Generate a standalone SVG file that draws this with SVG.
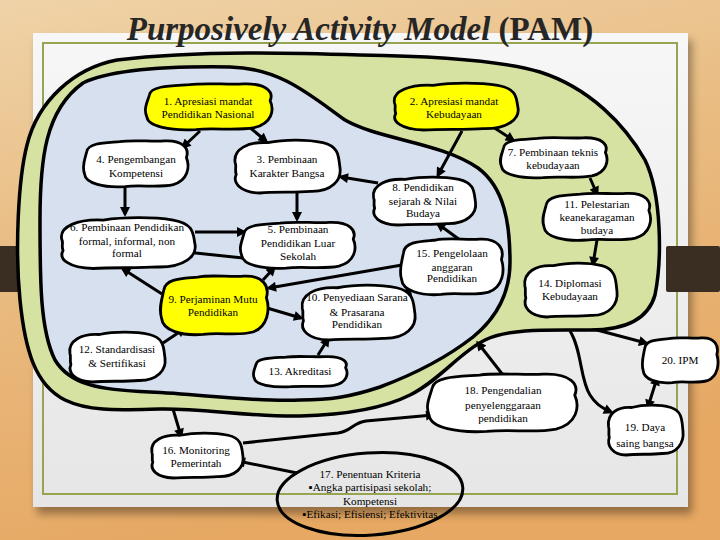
<svg xmlns="http://www.w3.org/2000/svg" width="720" height="540" viewBox="0 0 720 540">
<defs>
<linearGradient id="wood" x1="0" y1="0" x2="0.3" y2="1"><stop offset="0" stop-color="#efd3a8"/><stop offset="0.45" stop-color="#e9bc82"/><stop offset="1" stop-color="#e6a863"/></linearGradient>
<linearGradient id="paper" x1="0" y1="0" x2="0" y2="1"><stop offset="0" stop-color="#f7f7f7"/><stop offset="1" stop-color="#e6e6e6"/></linearGradient>
<filter id="sh" x="-5%" y="-5%" width="110%" height="115%"><feGaussianBlur stdDeviation="4"/></filter>
<marker id="ah" viewBox="0 0 10 10" refX="7" refY="5" markerWidth="11" markerHeight="10" markerUnits="userSpaceOnUse" orient="auto-start-reverse"><path d="M0,0 L10,5 L0,10 z" fill="#000"/></marker>
<path id="bA" d="M -0.93,-0.5 C -0.9,-0.9 -0.55,-0.88 -0.3,-0.93 C -0.05,-1.02 0.3,-0.92 0.55,-0.96 C 0.92,-1.0 1.03,-0.6 0.97,-0.25 C 1.04,0.15 1.0,0.72 0.72,0.9 C 0.45,1.04 0.1,0.9 -0.2,0.98 C -0.6,1.04 -0.95,0.85 -0.97,0.45 C -1.03,0.1 -0.96,-0.2 -0.93,-0.5 Z" stroke="#000" stroke-width="2.8" stroke-linejoin="round" vector-effect="non-scaling-stroke"/>
<path id="bB" d="M -0.96,-0.15 C -1.0,-0.65 -0.72,-0.95 -0.35,-0.9 C -0.05,-1.02 0.38,-1.03 0.68,-0.9 C 1.0,-0.75 0.97,-0.32 1.0,0.05 C 1.03,0.5 0.85,0.96 0.45,0.94 C 0.15,1.0 -0.2,0.94 -0.5,1.0 C -0.86,0.98 -1.01,0.62 -0.94,0.3 C -0.97,0.1 -0.93,0.02 -0.96,-0.15 Z" stroke="#000" stroke-width="2.8" stroke-linejoin="round" vector-effect="non-scaling-stroke"/>
</defs>
<style>
.w{fill:#ffffff}
.y{fill:#ffff00}
.t{font-size:11.2px;fill:#000;text-anchor:middle}
.c line,.c path{stroke:#000;stroke-width:3;fill:none;marker-end:url(#ah)}
.band{stroke:#000;stroke-width:3.5;stroke-linejoin:round}
</style>
<rect width="720" height="540" fill="url(#wood)"/>
<rect x="37" y="40" width="655" height="474" fill="#000" opacity="0.35" filter="url(#sh)"/>
<rect x="33" y="33" width="655" height="474" fill="url(#paper)"/>
<rect x="43" y="43" width="634" height="451" fill="none" stroke="#97a452" stroke-width="2"/>
<rect x="666" y="246" width="54" height="46" rx="2" fill="#3a2d22"/>
<rect x="0" y="246" width="30" height="46" fill="#3a2d22"/>
<text x="360" y="40" font-family="Liberation Serif" font-weight="bold" font-size="33" text-anchor="middle" fill="#262626"><tspan font-style="italic">Purposively Activity Model</tspan> (PAM)</text>

<g id="regions">
<path class="band" fill="#d6e2a2" d="M 117,60 C 200,50 300,53 360,55 C 430,56 500,60 540,72 C 590,88 625,125 645,160 C 662,195 662,260 655,295 C 648,320 625,330 590,330 C 550,330 510,328 485,340 C 460,352 440,380 410,395 C 380,410 340,415 300,416 C 250,417 200,408 160,409 C 120,410 90,412 65,400 C 35,385 25,350 20,300 C 15,250 18,180 27,145 C 38,100 75,68 117,60 Z"/>
<path class="band" fill="#d6e0ef" d="M 83,83 C 110,70 160,66 230,67 C 280,68 310,95 345,120 C 380,140 440,142 478,168 C 505,188 510,225 510,262 C 510,290 500,315 473,337 C 450,355 420,372 380,387 C 350,397 330,400 300,400 C 250,402 200,394 150,392 C 100,390 70,385 55,360 C 40,330 40,280 40,220 C 40,160 45,110 83,83 Z"/>
</g>

<g id="connectors" class="c">
<line x1="200" y1="131" x2="183" y2="147"/>
<line x1="248" y1="126" x2="266" y2="141"/>
<line x1="125" y1="188" x2="125" y2="214"/>
<line x1="297" y1="193" x2="297" y2="219"/>
<line x1="378" y1="183" x2="341" y2="177"/>
<line x1="493" y1="127" x2="513" y2="140"/>
<line x1="462" y1="131" x2="438" y2="175"/>
<line x1="590" y1="178" x2="597" y2="194"/>
<line x1="597" y1="240" x2="593" y2="264"/>
<line x1="195" y1="232" x2="244" y2="232"/>
<line x1="243" y1="258" x2="186" y2="252"/>
<line x1="162" y1="294" x2="123" y2="269"/>
<line x1="263" y1="280" x2="274" y2="268"/>
<line x1="402" y1="265" x2="269" y2="288"/>
<line x1="460" y1="240" x2="438" y2="224"/>
<line x1="427" y1="285" x2="404" y2="293"/>
<line x1="267" y1="308" x2="301" y2="318"/>
<line x1="163" y1="343" x2="184" y2="329"/>
<line x1="318" y1="355" x2="328" y2="339"/>
<line x1="173" y1="409" x2="181" y2="436"/>
<path d="M243,443 L338,433 C352,431 352,423 366,421 L433,415"/>
<line x1="297" y1="473" x2="238" y2="461"/>
<line x1="503" y1="375" x2="478" y2="343"/>
<line x1="597" y1="330" x2="646" y2="343"/>
<path d="M570,331 C582,350 580,380 590,395 C595,403 600,407 611,412"/>
<line x1="657" y1="378" x2="648" y2="407" style="marker-start:url(#ah)"/>
</g>

<g id="nodes" font-family="Liberation Serif">
<g id="n1"><use href="#bA" class="y" transform="translate(208.5 106.5) scale(63.5 23.5)"/><text class="t" x="208" y="105">1. Apresiasi mandat</text><text class="t" x="208" y="118">Pendidikan Nasional</text></g>
<g id="n2"><use href="#bB" class="y" transform="translate(455 106.5) scale(63 23.5)"/><text class="t" x="454" y="105">2. Apresiasi mandat</text><text class="t" x="454" y="118">Kebudayaan</text></g>
<g id="n3"><use href="#bB" class="w" transform="translate(286.5 166.5) scale(53.5 26.5)"/><text class="t" x="287" y="163">3. Pembinaan</text><text class="t" x="287" y="177">Karakter Bangsa</text></g>
<g id="n4"><use href="#bA" class="w" transform="translate(135.5 163.5) scale(52.5 23.5)"/><text class="t" x="136" y="163">4. Pengembangan</text><text class="t" x="136" y="177">Kompetensi</text></g>
<g id="n5"><use href="#bA" class="w" transform="translate(297.5 245) scale(57.5 23.5)"/><text class="t" x="298" y="233">5. Pembinaan</text><text class="t" x="298" y="247">Pendidikan Luar</text><text class="t" x="298" y="260">Sekolah</text></g>
<g id="n6"><use href="#bB" class="w" transform="translate(127 243) scale(68 25.5)"/><text class="t" x="127" y="231">6. Pembinaan Pendidikan</text><text class="t" x="127" y="245">formal, informal, non</text><text class="t" x="127" y="257">formal</text></g>
<g id="n7"><use href="#bA" class="w" transform="translate(553.5 157.5) scale(53.5 20.5)"/><text class="t" x="553" y="156">7. Pembinaan teknis</text><text class="t" x="553" y="169">kebudayaan</text></g>
<g id="n8"><use href="#bB" class="w" transform="translate(423.5 201) scale(52 24)"/><text class="t" x="423" y="191">8. Pendidikan</text><text class="t" x="423" y="205">sejarah &amp; Nilai</text><text class="t" x="423" y="217">Budaya</text></g>
<g id="n9"><use href="#bA" class="y" transform="translate(214 305) scale(54 30)"/><text class="t" x="213" y="303">9. Perjaminan Mutu</text><text class="t" x="213" y="316">Pendidikan</text></g>
<g id="n10"><use href="#bB" class="w" transform="translate(357.5 312.5) scale(57.5 27.5)"/><text class="t" x="357" y="301">10. Penyediaan Sarana</text><text class="t" x="357" y="316">&amp; Prasarana</text><text class="t" x="357" y="328">Pendidikan</text></g>
<g id="n11"><use href="#bA" class="w" transform="translate(596.5 216.5) scale(54 24)"/><text class="t" x="597" y="208">11. Pelestarian</text><text class="t" x="597" y="221">keanekaragaman</text><text class="t" x="597" y="234">budaya</text></g>
<g id="n12"><use href="#bB" class="w" transform="translate(116.5 357) scale(48.5 25)"/><text class="t" x="117" y="353">12. Standardisasi</text><text class="t" x="117" y="367">&amp; Sertifikasi</text></g>
<g id="n13"><use href="#bA" class="w" transform="translate(300 371.5) scale(47 15.5)"/><text class="t" x="300" y="375">13. Akreditasi</text></g>
<g id="n14"><use href="#bB" class="w" transform="translate(570 290) scale(47 27)"/><text class="t" x="570" y="287">14. Diplomasi</text><text class="t" x="570" y="300">Kebudayaan</text></g>
<g id="n15"><use href="#bA" class="w" transform="translate(451.5 266.5) scale(51.5 28.5)"/><text class="t" x="452" y="257">15. Pengelolaan</text><text class="t" x="452" y="271">anggaran</text><text class="t" x="452" y="282">Pendidikan</text></g>
<g id="n16"><use href="#bB" class="w" transform="translate(196.5 455.5) scale(46.5 22.5)"/><text class="t" x="196" y="454">16. Monitoring</text><text class="t" x="196" y="467">Pemerintah</text></g>
<g id="n17"><ellipse cx="370" cy="494" rx="93" ry="41" fill="none" stroke="#000" stroke-width="3" transform="rotate(-4 370 494)"/><text class="t" x="370" y="478">17. Penentuan Kriteria</text><text class="t" x="370" y="491">▪Angka partisipasi sekolah;</text><text class="t" x="370" y="505">Kompetensi</text><text class="t" x="370" y="518">▪Efikasi; Efisiensi; Efektivitas</text></g>
<g id="n18"><use href="#bA" class="w" transform="translate(502 402.5) scale(75 29.5)"/><text class="t" x="503" y="394">18. Pengendalian</text><text class="t" x="503" y="409">penyelenggaraan</text><text class="t" x="503" y="422">pendidikan</text></g>
<g id="n19"><use href="#bB" class="w" transform="translate(645 430) scale(38 25)"/><text class="t" x="645" y="431">19. Daya</text><text class="t" x="645" y="447">saing bangsa</text></g>
<g id="n20"><use href="#bA" class="w" transform="translate(680 360) scale(38 23)"/><text class="t" x="680" y="364">20. IPM</text></g>
</g>
</svg>
